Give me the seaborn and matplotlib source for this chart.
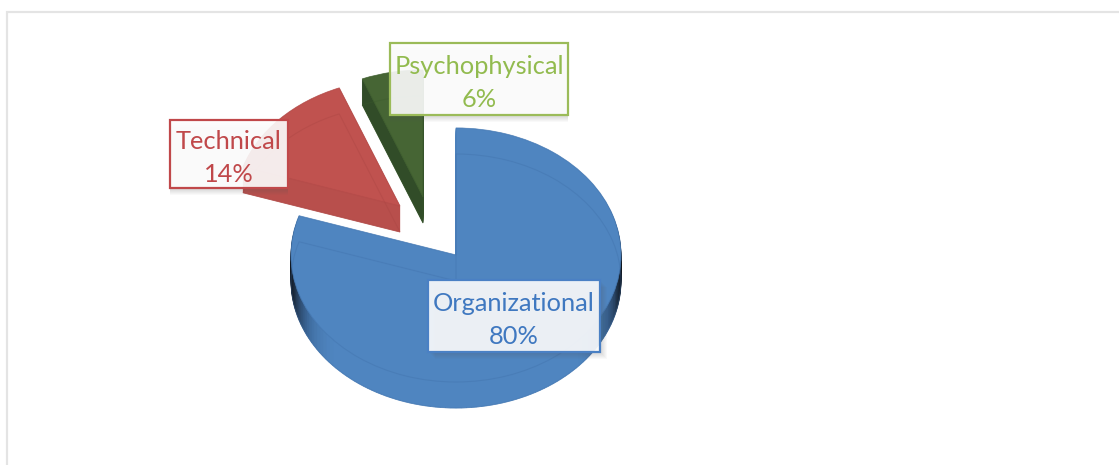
import numpy as np
import matplotlib.pyplot as plt
from matplotlib.patches import Rectangle
import seaborn as sns

categories = ["Organizational", "Technical", "Psychophysical"]
shares = [80, 14, 6]

top_colors = ["#4f85c0", "#c0524f", "#466534"]
side_colors = ["#4f85c0", "#b84f4c", "#314c28"]
line_colors = ["#3f6fa8", "#a84442", "#3a5a2c"]
text_colors = ["#3f78c0", "#c0484a", "#92bb4f"]
edge_colors = ["#4a80c4", "#c0484a", "#9bbb59"]

# pixel layout of the reference
RX, RY = 165, 127
DEPTH = 26
vertex_px = [(456, 255), (400, 206), (423, 197)]
box_px = [(428, 280, 172, 72), (170, 120, 118, 68), (390, 43, 178, 72)]
shadow_dir = [1, 0, 0]

sns.set_theme(style="white")
plt.rcParams["font.family"] = ["Lato", "DejaVu Sans"]

fig = plt.figure(figsize=(11.19, 4.65), dpi=100, facecolor="white")
ax = fig.add_axes([0, 0, 1, 1])

centers = [((x - 456) / RX, (255 - y) / RY) for x, y in vertex_px]
rim_shades = sns.blend_palette(["#4f85c0", "#3d6a9c", "#2a4566", "#10151c"], 64)

# the organizational rim is cut in thin pieces so it can darken towards both ends
n_pieces = 160
pieces = [shares[0] / n_pieces] * n_pieces + shares[1:]
owners = [0] * n_pieces + [1, 2]
mids = np.cumsum(pieces) - np.array(pieces) / 2
rim_colors = []
for owner, mid in zip(owners, mids):
    if owner == 0:
        dark = (max(0, abs(np.sin(mid / 100 * 2 * np.pi)) - 0.7) / 0.3) ** 2.5
        rim_colors.append(rim_shades[int(dark * 63)])
    else:
        rim_colors.append(side_colors[owner])

for d in range(DEPTH, 0, -1):
    wedges, _ = ax.pie(pieces, colors=rim_colors, startangle=90, counterclock=False)
    for w, owner in zip(wedges, owners):
        cx, cy = centers[owner]
        w.set_center((cx, cy - d / RY))
        w.set_edgecolor(w.get_facecolor())
        w.set_linewidth(0.5)

# top faces
wedges, _ = ax.pie(shares, colors=top_colors, startangle=90, counterclock=False)
for w, c in zip(wedges, centers):
    w.set_center(c)
    w.set_edgecolor(w.get_facecolor())
    w.set_linewidth(0.4)

# faint outlines of the top and of the bottom seen through the slices
for d in (0, DEPTH):
    wedges, _ = ax.pie(shares, colors=["none"] * 3, startangle=90, counterclock=False)
    for w, c, lc in zip(wedges, centers, line_colors):
        w.set_center((c[0], c[1] - d / RY))
        w.set_facecolor("none")
        w.set_edgecolor(lc)
        w.set_alpha(0.35)
        w.set_linewidth(0.8)

ax.set_aspect("auto")
ax.set_xlim(-456 / RX, (1119 - 456) / RX)
ax.set_ylim((255 - 465) / RY, 255 / RY)
ax.axis("off")

# overlay in pixels for the frame and the labels
over = fig.add_axes([0, 0, 1, 1], facecolor="none")
over.set_xlim(0, 1119)
over.set_ylim(465, 0)
over.axis("off")
over.plot([7, 7, 1119], [465, 12, 12], color="#e4e4e4", lw=1.6, solid_joinstyle="miter")

for name, share, (x, y, w, h), tc, ec, sd in zip(
    categories, shares, box_px, text_colors, edge_colors, shadow_dir
):
    for off in range(1, 8):
        over.add_patch(Rectangle((x + off * sd, y + off), w, h, fc="#555555", ec="none", alpha=0.035))
    over.add_patch(Rectangle((x, y), w, h, fc="white", ec="none", alpha=0.89))
    over.add_patch(Rectangle((x, y), w, h, fc="none", ec=ec, lw=1.6))
    over.text(x + w / 2, y + h / 2 + 4, f"{name}\n{share}%", color=tc, fontsize=18.3,
              ha="center", va="center", linespacing=1.5)

fig.savefig("out.png", dpi=100, facecolor="white")
